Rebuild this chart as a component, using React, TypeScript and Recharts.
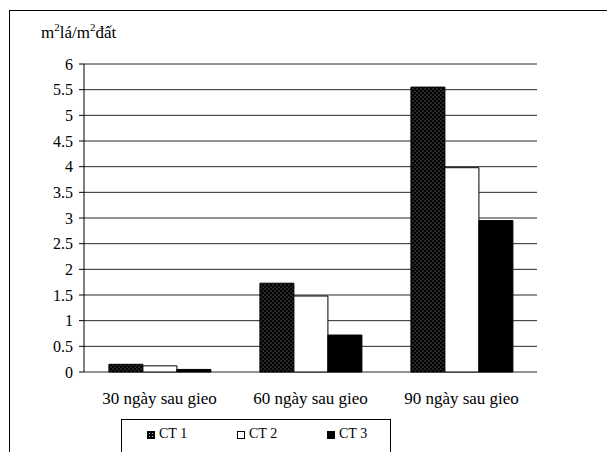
import { Bar, BarChart, CartesianGrid, XAxis, YAxis } from 'recharts'

const categories = ['30 ngày sau gieo', '60 ngày sau gieo', '90 ngày sau gieo']
const seriesNames = ['CT 1', 'CT 2', 'CT 3']
const ct1 = [0.15, 1.73, 5.55]
const ct2 = [0.12, 1.48, 3.98]
const ct3 = [0.05, 0.72, 2.95]
const yTicks = [0, 0.5, 1, 1.5, 2, 2.5, 3, 3.5, 4, 4.5, 5, 5.5, 6]
const boundaryTicks = [0, 1, 2, 3]

const data = categories.map((name, i) => ({
  name,
  idx: i + 0.5,
  ct1: ct1[i],
  ct2: ct2[i],
  ct3: ct3[i]
}))

const FONT = '"Times New Roman", "Liberation Serif", serif'
const fills = ['url(#dots)', '#ffffff', '#000000']

function LegendMarker({ i }: { i: number }) {
  const base: React.CSSProperties = {
    display: 'inline-block',
    width: 8,
    height: 8,
    boxSizing: 'border-box',
    border: '1px solid #000',
    marginRight: 4,
    verticalAlign: 'middle'
  }
  if (i === 0) {
    return (
      <span
        style={{
          ...base,
          background: '#000',
          backgroundImage: 'radial-gradient(#bbb 0.8px, transparent 1px)',
          backgroundSize: '3px 3px'
        }}
      />
    )
  }
  return <span style={{ ...base, background: i === 1 ? '#fff' : '#000' }} />
}

export default function App() {
  return (
    <div
      style={{
        position: 'absolute',
        left: 0,
        top: 0,
        width: 607,
        height: 452,
        overflow: 'hidden',
        background: '#fff',
        fontFamily: FONT
      }}
    >
      <div
        style={{
          position: 'absolute',
          left: 9,
          top: 10,
          width: 640,
          height: 480,
          border: '1.5px solid #000'
        }}
      />
      <div style={{ position: 'absolute', left: 41, top: 21, fontSize: 17, color: '#000', whiteSpace: 'nowrap' }}>
        m<sup style={{ fontSize: 11 }}>2</sup>lá/m<sup style={{ fontSize: 11 }}>2</sup>đất
      </div>
      <div style={{ position: 'absolute', left: 0, top: 0 }}>
        <BarChart
          width={607}
          height={452}
          data={data}
          margin={{ top: 64, right: 70, left: 44, bottom: 50 }}
          barCategoryGap="16.5%"
          barGap={0}
        >
          <defs>
            <pattern id="dots" width="4" height="4" patternUnits="userSpaceOnUse">
              <rect width="4" height="4" fill="#000" />
              <circle cx="1" cy="1" r="0.6" fill="#aaa" />
              <circle cx="3" cy="3" r="0.6" fill="#aaa" />
            </pattern>
          </defs>
          <CartesianGrid
            xAxisId="cat"
            yAxisId="left"
            horizontal
            vertical={false}
            stroke="#000"
            strokeOpacity={0.85}
          />
          <XAxis
            xAxisId="edge"
            type="number"
            dataKey="idx"
            domain={[0, 3]}
            ticks={boundaryTicks}
            tick={false}
            tickSize={5}
            tickLine={{ stroke: '#000' }}
            axisLine={{ stroke: '#000' }}
            height={0}
          />
          <XAxis
            xAxisId="cat"
            dataKey="name"
            tickLine={false}
            axisLine={false}
            height={30}
            tickMargin={14}
            tick={{ fill: '#000', fontSize: 17, fontFamily: FONT }}
          />
          <YAxis
            yAxisId="left"
            domain={[0, 6]}
            ticks={yTicks}
            width={40}
            tickSize={5}
            tickMargin={6}
            tickLine={{ stroke: '#000' }}
            axisLine={{ stroke: '#000' }}
            tick={{ fill: '#000', fontSize: 16, fontFamily: FONT }}
          />
          <YAxis
            yAxisId="right"
            orientation="right"
            domain={[0, 6]}
            width={0}
            tick={false}
            tickLine={false}
            axisLine={{ stroke: '#888' }}
          />
          {(['ct1', 'ct2', 'ct3'] as const).map((key, i) => (
            <Bar
              key={key}
              xAxisId="cat"
              yAxisId="left"
              dataKey={key}
              name={seriesNames[i]}
              fill={fills[i]}
              stroke="#000"
              strokeWidth={1}
              isAnimationActive={false}
            />
          ))}
        </BarChart>
      </div>
      <div
        style={{
          position: 'absolute',
          left: 121,
          top: 419,
          width: 268,
          height: 60,
          border: '1px solid #000',
          fontSize: 14,
          color: '#000'
        }}
      >
        {seriesNames.map((name, i) => (
          <span
            key={name}
            style={{ position: 'absolute', left: 25 + i * 90, top: 6, whiteSpace: 'nowrap' }}
          >
            <LegendMarker i={i} />
            {name}
          </span>
        ))}
      </div>
    </div>
  )
}
